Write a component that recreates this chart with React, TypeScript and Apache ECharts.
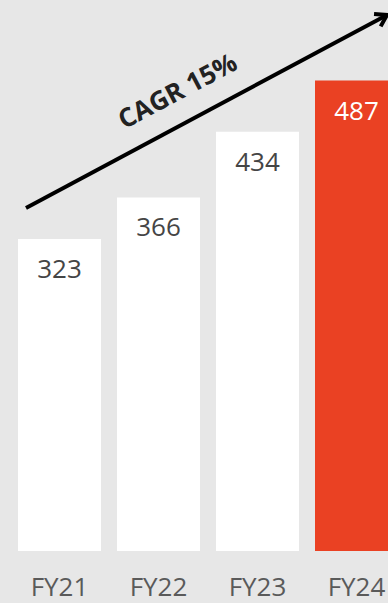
import React, { useEffect, useRef } from "react";
import * as echarts from "echarts";

const categories = ["FY21", "FY22", "FY23", "FY24"];
const revenue = [323, 366, 434, 487];
const highlightIndex = 3;
const cagrLabel = "CAGR 15%";

export default function App() {
  const ref = useRef<HTMLDivElement>(null);
  useEffect(() => {
    if (!ref.current) return;
    const chart = echarts.init(ref.current, undefined, { renderer: "svg" });
    const font = "'Open Sans', 'Noto Sans', sans-serif";
    const angle = Math.atan2(208 - 15, 387 - 26);
    const headLen = 13;
    const tipX = 387, tipY = 15;
    const a1 = angle - Math.PI / 5.5;
    const a2 = angle + Math.PI / 5.5;
    chart.setOption({
      animation: false,
      backgroundColor: "#e7e7e7",
      grid: { left: 10, right: 0, top: 10, bottom: 52, containLabel: false },
      xAxis: {
        type: "category",
        data: categories,
        axisLine: { show: false },
        axisTick: { show: false },
        axisLabel: { color: "#5a5a5a", fontSize: 26, fontFamily: font, margin: 22 },
      },
      yAxis: {
        type: "value",
        min: 0,
        max: 560,
        show: false,
        splitLine: { show: false },
      },
      series: [
        {
          type: "bar",
          barWidth: 83,
          data: revenue.map((v, i) => ({
            value: v,
            itemStyle: { color: i === highlightIndex ? "#ea4123" : "#ffffff" },
            label: { color: i === highlightIndex ? "#ffffff" : "#454545" },
          })),
          label: {
            show: true,
            position: "insideTop",
            distance: 16,
            fontSize: 26,
            fontFamily: font,
          },
        },
      ],
      graphic: [
        {
          type: "line",
          shape: { x1: 26, y1: 208, x2: tipX, y2: tipY },
          style: { stroke: "#000", lineWidth: 4 },
        },
        {
          type: "polyline",
          shape: {
            points: [
              [tipX - headLen * Math.cos(a1), tipY + headLen * Math.sin(a1)],
              [tipX, tipY],
              [tipX - headLen * Math.cos(a2), tipY + headLen * Math.sin(a2)],
            ],
          },
          style: { stroke: "#000", lineWidth: 4, fill: "none", lineJoin: "miter" },
        },
        {
          type: "text",
          x: 177,
          y: 90,
          rotation: angle,
          style: {
            text: cagrLabel,
            fill: "#222",
            font: `bold 26px ${font}`,
            align: "center",
            verticalAlign: "middle",
          },
        },
      ],
    });
    return () => chart.dispose();
  }, []);
  return (
    <div style={{ position: "fixed", left: 0, top: 0, width: 388, height: 603, overflow: "hidden" }}>
      <div ref={ref} style={{ width: 406, height: 603 }} />
    </div>
  );
}
